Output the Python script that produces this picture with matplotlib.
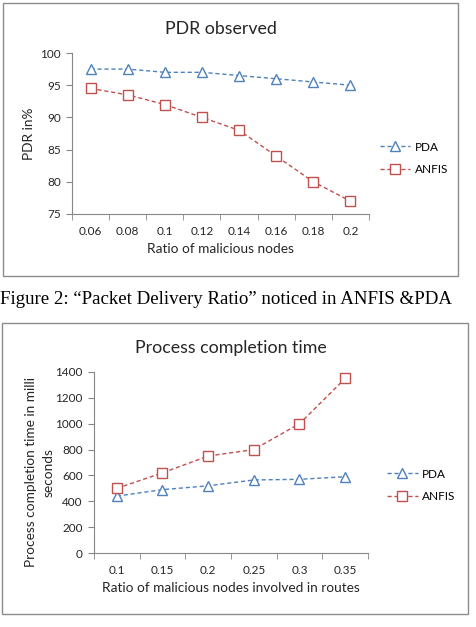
import matplotlib
matplotlib.use("Agg")
import matplotlib.pyplot as plt
from matplotlib.patches import Rectangle

# PDR chart data
pdr_ratio = ["0.06", "0.08", "0.1", "0.12", "0.14", "0.16", "0.18", "0.2"]
pdr_pda = [97.5, 97.5, 97, 97, 96.5, 96, 95.5, 95]
pdr_anfis = [94.5, 93.5, 92, 90, 88, 84, 80, 77]
pdr_yticks = [75, 80, 85, 90, 95, 100]

# process completion time data
pct_ratio = ["0.1", "0.15", "0.2", "0.25", "0.3", "0.35"]
pct_pda = [440, 490, 520, 565, 570, 590]
pct_anfis = [500, 620, 750, 800, 1000, 1350]
pct_yticks = [0, 200, 400, 600, 800, 1000, 1200, 1400]

BLUE = "#4F81BD"
RED = "#C0504D"
AXCOL = "#868686"
TXT = "#262626"
W, H = 477, 627

plt.rcParams['font.family'] = ['Lato', 'DejaVu Sans']

fig = plt.figure(figsize=(W / 100, H / 100), dpi=100)


def px(x0, y0, x1, y1):
    # pixel box (top-left origin) -> figure fraction rect
    return [x0 / W, 1 - y1 / H, (x1 - x0) / W, (y1 - y0) / H]


def border(x0, y0, x1, y1):
    r = Rectangle((x0 / W, 1 - y1 / H), (x1 - x0) / W, (y1 - y0) / H,
                  transform=fig.transFigure, fill=False, edgecolor="#8c8c8c", lw=1)
    fig.patches.append(r)


def draw_chart(ax, cats, pda, anfis, yticks, title, ylabel, xlabel):
    n = len(cats)
    xs = list(range(n))
    ls = (0, (3, 2))
    ax.plot(xs, pda, color=BLUE, ls=ls, lw=1, marker="^", ms=7,
            mfc="white", mec=BLUE, mew=1, label="PDA")
    ax.plot(xs, anfis, color=RED, ls=ls, lw=1, marker="s", ms=6.5,
            mfc="white", mec=RED, mew=1, label="ANFIS")
    ax.set_xlim(-0.5, n - 0.5)
    ax.set_ylim(yticks[0], yticks[-1])
    ax.set_yticks(yticks)
    ax.set_xticks(xs)
    ax.set_xticklabels(cats)
    ax.set_xticks([i - 0.5 for i in range(n + 1)], minor=True)
    ax.tick_params(axis="x", which="major", length=0, pad=9, labelsize=8.5, labelcolor=TXT)
    ax.tick_params(axis="x", which="minor", length=4, color=AXCOL, direction="out")
    ax.tick_params(axis="y", length=4, color=AXCOL, labelsize=8.5, labelcolor=TXT, pad=4)
    for s in ["top", "right"]:
        ax.spines[s].set_visible(False)
    for s in ["left", "bottom"]:
        ax.spines[s].set_color(AXCOL)
    ax.set_title(title, fontsize=12.8, color=TXT, pad=14)
    ax.set_xlabel(xlabel, fontsize=9.8, color=TXT, labelpad=4)
    ax.set_ylabel(ylabel, fontsize=9.8, color=TXT, linespacing=1.5)


# top chart
border(3, 3, 458, 276)
ax1 = fig.add_axes(px(72, 53, 369, 214))
draw_chart(ax1, pdr_ratio, pdr_pda, pdr_anfis, pdr_yticks,
           "PDR observed", "PDR in%", "Ratio of malicious nodes")
ax1.yaxis.set_label_coords(-0.125, 0.5)
ax1.legend(loc="center left", bbox_to_anchor=(1.0, 0.345), frameon=False,
           fontsize=8.5, handlelength=2.6, labelspacing=1.0, handletextpad=0.4)

# caption
fig.text(0.0, 1 - 299 / H, "Figure 2: \u201cPacket Delivery Ratio\u201d noticed in ANFIS &PDA",
         family="Liberation Serif", fontsize=13.6, va="center", ha="left", color="black")

# bottom chart
border(2, 323, 468, 614)
ax2 = fig.add_axes(px(94, 372, 368, 553))
draw_chart(ax2, pct_ratio, pct_pda, pct_anfis, pct_yticks,
           "Process completion time", "Process completion time in milli\nseconds",
           "Ratio of malicious nodes involved in routes")
ax2.yaxis.set_label_coords(-0.145, 0.447)
ax2.legend(loc="center left", bbox_to_anchor=(1.03, 0.373), frameon=False,
           fontsize=8.5, handlelength=2.6, labelspacing=1.0, handletextpad=0.4)

fig.savefig("out.png", dpi=100)
